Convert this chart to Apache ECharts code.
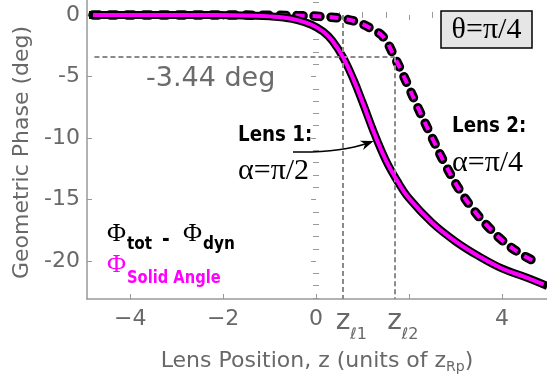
<!DOCTYPE html>
<html>
<head>
<meta charset="utf-8">
<script src="https://cdn.jsdelivr.net/npm/echarts@6/dist/echarts.min.js"></script>
<style>
  html, body { margin: 0; padding: 0; background: #ffffff; }
  #chart { width: 547px; height: 390px; }
</style>
</head>
<body>
<div id="chart"></div>
<script>
// Geometric phase vs. lens position (z in units of z_Rp), theta = pi/4
const lens1Z     = [-4.8, -3.5, -2.5, -1.8, -1.3, -1.0, -0.7, -0.4, -0.1, 0.15, 0.35, 0.58, 0.8, 1.0, 1.25, 1.5, 1.75, 2.0, 2.5, 3.0, 3.5, 4.0, 4.5, 4.9];
const lens1Phase = [0, 0, -0.01, -0.03, -0.07, -0.12, -0.22, -0.42, -0.8, -1.35, -2.1, -3.44, -5.2, -7.1, -9.6, -11.8, -13.5, -14.9, -16.9, -18.4, -19.6, -20.6, -21.3, -21.9];

const lens2Z     = [-4.8, -3.0, -2.0, -1.0, -0.3, 0.2, 0.6, 0.9, 1.2, 1.45, 1.69, 1.95, 2.2, 2.5, 2.8, 3.1, 3.4, 3.7, 4.0, 4.4, 4.8];
const lens2Phase = [0, 0, -0.01, -0.03, -0.07, -0.15, -0.32, -0.6, -1.15, -1.8, -3.44, -5.5, -7.6, -10.0, -12.3, -14.3, -15.9, -17.2, -18.3, -19.4, -20.2];

// Lens positions and the reference phase marked with dashed guides
const zL1 = 0.58;
const zL2 = 1.69;
const refPhase = -3.44;
const refStartZ = -4.77;

// Axis ranges, ticks and tick labels
const X_MIN = -4.93, X_MAX = 4.97;
const Y_MIN = -23.08, Y_MAX = 1.21;
const xMajorTicks = [-4, -2, 0, 2, 4];
const xNumberLabels = [-4, -2, 0, 4];
const lensPositions = [zL1, zL2];
const lensSubscripts = ['\u21131', '\u21132'];
const yMajorTicks = [0, -5, -10, -15, -20];

const xMinorTicks = [];
for (let v = -4.5; v <= 4.51; v += 0.5) {
  if (Math.abs(v / 2 - Math.round(v / 2)) > 1e-6) xMinorTicks.push(+v.toFixed(2));
}
const yMinorTicks = [];
for (let v = -23; v <= 1; v += 1) {
  if (v % 5 !== 0) yMinorTicks.push(v);
}

const SANS = '"DejaVu Sans", Verdana, sans-serif';
const SERIF = '"Liberation Serif", "Times New Roman", "DejaVu Serif", serif';
const AXIS_GRAY = '#999999';
const TEXT_GRAY = '#686868';
const MAGENTA = '#ff00ff';

const lens1Data = lens1Z.map((z, i) => [z, lens1Phase[i]]);
const lens2Data = lens2Z.map((z, i) => [z, lens2Phase[i]]);

function lensIndex(v) {
  return lensPositions.findIndex(p => Math.abs(p - v) < 1e-9);
}

// Bare axis used only to carry extra ticks or labels on the frame
function plainAxis(kind, position, extra) {
  const base = {
    type: 'value', position: position,
    min: kind === 'x' ? X_MIN : Y_MIN, max: kind === 'x' ? X_MAX : Y_MAX,
    axisLine: { show: false },
    axisTick: { show: false },
    axisLabel: { show: false },
    splitLine: { show: false }
  };
  return Object.assign(base, extra);
}
function tickOnly(kind, position, ticks, len) {
  return plainAxis(kind, position, {
    axisTick: { show: true, inside: true, length: len, customValues: ticks, lineStyle: { color: AXIS_GRAY, width: 1 } }
  });
}

const lineBase = {
  type: 'line', symbol: 'none', showSymbol: false, smooth: 0.4,
  silent: true, animation: false, xAxisIndex: 0, yAxisIndex: 0
};

// Small helpers for the text annotations
function txt(x, y, text, font, fill, align) {
  return {
    type: 'text', x: x, y: y, z: 100, silent: true,
    style: { text: text, font: font, fill: fill, align: align || 'left', textAlign: align || 'left', verticalAlign: 'middle', textVerticalAlign: 'middle' }
  };
}
function boldTxt(x, y, text, size, fill) {
  const t = txt(x, y, text, 'bold ' + size + 'px ' + SANS, fill);
  t.scaleX = 0.85;
  return t;
}

// Arrow pointing from the "Lens 1" note to its curve
const arrStart = [293, 152], arrCtrl = [340, 153], arrEnd = [368, 143];
const dx = arrEnd[0] - arrCtrl[0], dy = arrEnd[1] - arrCtrl[1];
const dl = Math.hypot(dx, dy), ux = dx / dl, uy = dy / dl;
const tip = [arrEnd[0] + ux * 6, arrEnd[1] + uy * 6];
const back = [arrEnd[0] - ux * 7, arrEnd[1] - uy * 7];
const notch = [arrEnd[0] - ux * 3, arrEnd[1] - uy * 3];
const headPts = [tip, [back[0] - uy * 5, back[1] + ux * 5], notch, [back[0] + uy * 5, back[1] - ux * 5]];

const option = {
  backgroundColor: '#ffffff',
  animation: false,
  grid: { left: 87, right: -1, top: -1, bottom: 91, containLabel: false },
  xAxis: [
    {
      type: 'value', position: 'bottom', min: X_MIN, max: X_MAX,
      axisLine: { show: true, onZero: false, lineStyle: { color: AXIS_GRAY, width: 1.5 } },
      axisTick: { show: true, inside: true, length: 5, customValues: xMajorTicks, lineStyle: { color: AXIS_GRAY, width: 1 } },
      axisLabel: {
        customValues: xNumberLabels, margin: 9,
        formatter: v => (v < 0 ? '\u2212' + Math.abs(v) : String(v)),
        color: TEXT_GRAY, fontFamily: SANS, fontSize: 22, lineHeight: 22
      },
      splitLine: { show: false },
      name: '{a|Lens Position, z (units of z}{s|Rp}{a|)}',
      nameLocation: 'middle', nameGap: 51,
      nameTextStyle: {
        color: TEXT_GRAY, fontFamily: SANS, fontSize: 22,
        rich: {
          a: { fontSize: 22, lineHeight: 24, verticalAlign: 'top', color: TEXT_GRAY, fontFamily: SANS },
          s: { fontSize: 14, lineHeight: 14, verticalAlign: 'bottom', padding: [14, 0, 0, 0], color: TEXT_GRAY, fontFamily: SANS }
        }
      }
    },
    tickOnly('x', 'bottom', xMinorTicks, 3),
    tickOnly('x', 'top', xMajorTicks, 5),
    tickOnly('x', 'top', xMinorTicks, 3),
    // lens position labels: "z" and its subscript
    plainAxis('x', 'bottom', {
      axisLabel: { show: true, customValues: lensPositions, formatter: () => 'z', margin: 12,
        color: TEXT_GRAY, fontFamily: SANS, fontSize: 28, lineHeight: 22 }
    }),
    plainAxis('x', 'bottom', {
      axisLabel: { show: true, customValues: lensPositions, formatter: v => lensSubscripts[lensIndex(v)] || '',
        margin: 28, align: 'left', padding: [0, 0, 0, 7],
        color: TEXT_GRAY, fontFamily: SANS, fontSize: 16, lineHeight: 16 }
    })
  ],
  yAxis: [
    {
      type: 'value', position: 'left', min: Y_MIN, max: Y_MAX,
      axisLine: { show: true, onZero: false, lineStyle: { color: AXIS_GRAY, width: 1.5 } },
      axisTick: { show: true, inside: true, length: 5, customValues: yMajorTicks, lineStyle: { color: AXIS_GRAY, width: 1 } },
      axisLabel: { customValues: yMajorTicks, formatter: v => String(v), margin: 7, color: TEXT_GRAY, fontFamily: SANS, fontSize: 22 },
      splitLine: { show: false },
      name: 'Geometric Phase (deg)',
      nameLocation: 'middle', nameRotate: 90, nameGap: 54,
      nameTextStyle: { color: TEXT_GRAY, fontFamily: SANS, fontSize: 22, lineHeight: 22, padding: [0, 6, 0, 0] }
    },
    tickOnly('y', 'left', yMinorTicks, 3),
    tickOnly('y', 'right', yMajorTicks, 5),
    tickOnly('y', 'right', yMinorTicks, 3)
  ],
  series: [
    {
      type: 'line', data: [], silent: true, animation: false, z: 1,
      markLine: {
        silent: true, animation: false, symbol: ['none', 'none'],
        label: { show: false },
        lineStyle: { color: '#8a8a8a', width: 2, type: [5, 3] },
        emphasis: { disabled: true },
        data: [
          [{ coord: [refStartZ, refPhase] }, { coord: [zL2, refPhase] }],
          [{ coord: [zL1, 0] }, { coord: [zL1, Y_MIN] }],
          [{ coord: [zL2, refPhase] }, { coord: [zL2, Y_MIN] }]
        ]
      }
    },
    Object.assign({}, lineBase, { name: 'Lens 2', data: lens2Data, z: 2,
      lineStyle: { color: '#000000', width: 9.5, type: [6, 11], cap: 'round' } }),
    Object.assign({}, lineBase, { name: 'Lens 2 solid angle', data: lens2Data, z: 3,
      lineStyle: { color: MAGENTA, width: 4, type: [9, 8], dashOffset: 1.5 } }),
    Object.assign({}, lineBase, { name: 'Lens 1', data: lens1Data, z: 4,
      lineStyle: { color: '#000000', width: 8, cap: 'square' } }),
    Object.assign({}, lineBase, { name: 'Lens 1 solid angle', data: lens1Data, z: 5,
      lineStyle: { color: MAGENTA, width: 4, cap: 'butt' } })
  ],
  graphic: [
    { type: 'rect', z: 99, silent: true, shape: { x: 441, y: 11, width: 91, height: 37 },
      style: { fill: '#e6e6e6', stroke: '#000000', lineWidth: 1.5 } },
    txt(486.5, 30, '\u03b8=\u03c0/4', '30px ' + SERIF, '#000000', 'center'),
    txt(146, 79, '-3.44 deg', '27px ' + SANS, '#6b6b6b'),
    boldTxt(238, 135.5, 'Lens 1:', 21.5, '#000000'),
    txt(238, 171, '\u03b1=\u03c0/2', '30px ' + SERIF, '#000000'),
    boldTxt(452, 126.5, 'Lens 2:', 21.5, '#000000'),
    txt(452, 163, '\u03b1=\u03c0/4', '30px ' + SERIF, '#000000'),
    // legend-style note
    txt(107, 234, '\u03a6', '26px ' + SERIF, '#000000'),
    boldTxt(127, 244.6, 'tot', 18, '#000000'),
    boldTxt(162, 240, '-', 22, '#000000'),
    txt(183, 234, '\u03a6', '26px ' + SERIF, '#000000'),
    boldTxt(203, 244.6, 'dyn', 18, '#000000'),
    txt(107, 265, '\u03a6', '26px ' + SERIF, MAGENTA),
    boldTxt(127, 278.8, 'Solid Angle', 17.3, MAGENTA),
    { type: 'bezierCurve', z: 100, silent: true,
      shape: { x1: arrStart[0], y1: arrStart[1], cpx1: arrCtrl[0], cpy1: arrCtrl[1], x2: arrEnd[0], y2: arrEnd[1] },
      style: { stroke: '#000000', lineWidth: 1.5, fill: null } },
    { type: 'polygon', z: 100, silent: true, shape: { points: headPts }, style: { fill: '#000000' } }
  ]
};

const chart = echarts.init(document.getElementById('chart'), null, { renderer: 'canvas' });
chart.setOption(option);
</script>
</body>
</html>
